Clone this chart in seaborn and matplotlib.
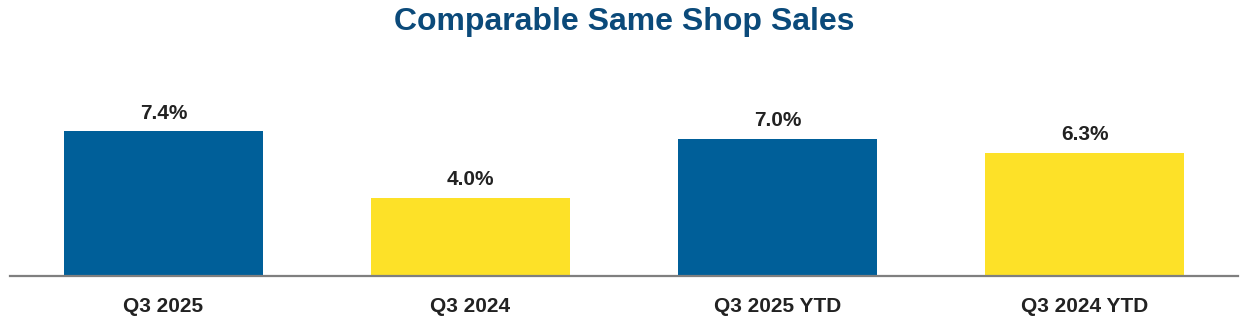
import matplotlib
matplotlib.use("Agg")
import matplotlib.pyplot as plt
import seaborn as sns
import pandas as pd

categories = ["Q3 2025", "Q3 2024", "Q3 2025 YTD", "Q3 2024 YTD"]
values = [7.4, 4.0, 7.0, 6.3]
bar_colors = ["#005F99", "#FDE128", "#005F99", "#FDE128"]

sns.set_theme(style="white")
plt.rcParams["font.family"] = ["Liberation Sans", "DejaVu Sans"]

df = pd.DataFrame({"category": categories, "value": values})

fig = plt.figure(figsize=(12.48, 3.26), dpi=100)
ax = fig.add_axes([10 / 1248, 50 / 326, 1228 / 1248, 215.6 / 326])

sns.barplot(data=df, x="category", y="value", hue="category",
            palette=bar_colors, width=0.645, legend=False, ax=ax,
            saturation=1, edgecolor="none")

for i, v in enumerate(values):
    ax.annotate(f"{v:.1f}%", xy=(i, v), xytext=(0, 6), textcoords="offset points",
                ha="center", va="bottom", fontsize=15, fontweight="bold", color="#222222")

ax.set_xlim(-0.5, 3.5)
ax.set_ylim(0, 11)
ax.set_xlabel("")
ax.set_ylabel("")
ax.set_yticks([])
for s in ["top", "right", "left"]:
    ax.spines[s].set_visible(False)
ax.spines["bottom"].set_color("#7F7F7F")
ax.spines["bottom"].set_linewidth(1.6)
ax.tick_params(axis="x", length=0, pad=15, labelsize=15, labelcolor="#222222")
for lbl in ax.get_xticklabels():
    lbl.set_fontweight("bold")

fig.text(0.5, 1 - 22 / 326, "Comparable Same Shop Sales", ha="center", va="center",
         fontsize=23, fontweight="bold", color="#0B4A7A")

fig.savefig("out.png", dpi=100)
